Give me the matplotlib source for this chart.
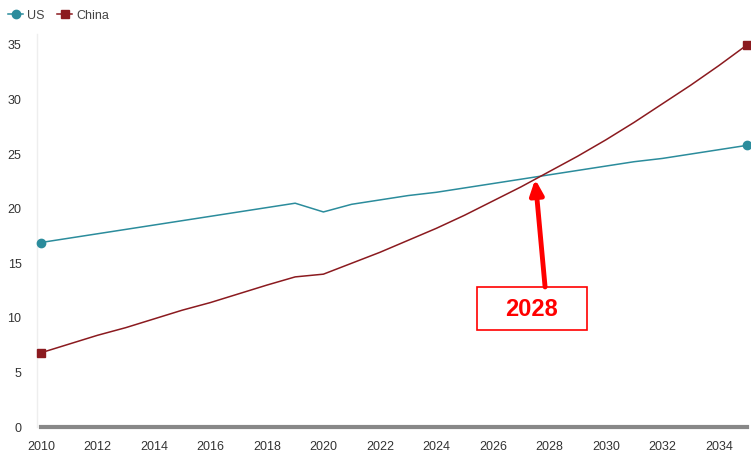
import numpy as np
import matplotlib.pyplot as plt
from matplotlib.patches import Rectangle

plt.rcParams['font.family'] = ['Liberation Sans', 'DejaVu Sans']

years = np.arange(2010, 2036)
us = [16.9, 17.3, 17.7, 18.1, 18.5, 18.9, 19.3, 19.7, 20.1, 20.5,
      19.7, 20.4, 20.8, 21.2, 21.5, 21.9, 22.3, 22.7, 23.1, 23.5,
      23.9, 24.3, 24.6, 25.0, 25.4, 25.8]
china = [6.8, 7.6, 8.4, 9.1, 9.9, 10.7, 11.4, 12.2, 13.0, 13.75,
         14.0, 15.0, 16.0, 17.1, 18.2, 19.4, 20.7, 22.0, 23.4, 24.8,
         26.3, 27.9, 29.6, 31.3, 33.1, 35.0]
xticks = np.arange(2010, 2035, 2)
yticks = np.arange(0, 40, 5)

us_col = '#2b8c9c'
cn_col = '#8b1a1f'

fig = plt.figure(figsize=(7.51, 4.57), dpi=100)
ax = fig.add_axes([41/751, 1-427/457, (747-41)/751, (427-34)/457])

ax.plot(years, us, color=us_col, lw=1.1, marker='o', markersize=6,
        markevery=[0, len(years)-1], label='US', clip_on=False, zorder=3)
ax.plot(years, china, color=cn_col, lw=1.1, marker='s', markersize=6,
        markevery=[0, len(years)-1], label='China', clip_on=False, zorder=3)

ax.set_xlim(2010, 2035)
ax.set_ylim(0, 36)
ax.set_xticks(xticks)
ax.set_yticks(yticks)
ax.tick_params(length=0, labelsize=9, colors='#333333', pad=10)
ax.tick_params(axis='y', pad=14)
for s in ['top', 'right', 'left']:
    ax.spines[s].set_visible(False)
ax.spines['bottom'].set_color('#888888')
ax.spines['bottom'].set_linewidth(3)
ax.axvline(2009.85, color='#eeeeee', lw=1, clip_on=False)

ax.legend(loc='lower left', bbox_to_anchor=(-0.055, 1.015), ncol=2, frameon=False,
          fontsize=9, handlelength=1.2, handletextpad=0.3, columnspacing=1.0,
          borderaxespad=0.1, labelcolor='#444444')

# 2028 callout
ax.add_patch(Rectangle((2025.44, 8.9), 3.89, 3.93, fc='white', ec='#ff0000', lw=1.2, zorder=4))
ax.text(2027.38, 10.8, '2028', ha='center', va='center', fontsize=17,
        fontweight='bold', color='#ff0000', zorder=5)
ax.annotate('', xy=(2027.5, 22.7), xytext=(2027.85, 12.83),
            arrowprops=dict(arrowstyle='-|>,head_width=0.4,head_length=0.9',
                            color='#ff0000', lw=3.5, shrinkA=0, shrinkB=0), zorder=5)

plt.savefig('out.png', dpi=100)
